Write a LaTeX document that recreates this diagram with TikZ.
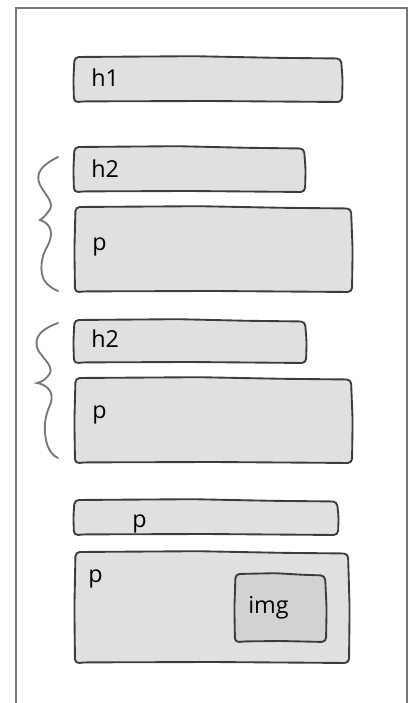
\documentclass[tikz,border=0pt]{standalone}
\usepackage{fontspec}
\setmainfont{Open Sans}
\definecolor{boxfill}{HTML}{E0E0E0}
\definecolor{imgfill}{HTML}{D2D2D2}
\definecolor{boxline}{HTML}{3C3C3C}
\definecolor{frameline}{HTML}{777777}
\newcommand\skbox[5][]{%
  \draw[sk,#1]
    ({#2+0.5},{#3}) -- ({#2+0.45*(#4-#2)},{#3-0.8}) -- ({#2+0.75*(#4-#2)},{#3+0.8})
    -- ({#4-1},{#3+1.5}) -- ({#4+0.6},{0.5*(#3+#5)}) -- ({#4},{#5})
    -- ({#2+0.5*(#4-#2)},{#5-1}) -- ({#2+8},{#5-0.6}) -- ({#2},{#5+0.5})
    -- ({#2-0.6},{0.5*(#3+#5)}) -- cycle;}
\begin{document}
\begin{tikzpicture}[x=0.75pt,y=-0.75pt,
  sk/.style={draw=boxline,line width=1.4pt,fill=boxfill,line join=round,rounded corners=3.2pt},
  skimg/.style={fill=imgfill},
  lbl/.style={anchor=base west,inner sep=0pt,font=\fontsize{17.5}{20}\selectfont},
  brace/.style={draw=frameline,line width=1.4pt,line cap=round},
  frame/.style={draw=frameline,line width=1.6pt}]
\useasboundingbox (0,0) rectangle (408,703);
\draw[frame] (16,704) -- (16,8) -- (407,8) -- (407,704);
% h1
\skbox{74}{57}{342}{102}
\node[lbl] (h1) at (91,86) {h1};
% group 1
\skbox{74}{147}{305}{192}
\node[lbl] (h2a) at (91,177) {h2};
\skbox{75}{207}{352}{292}
\node[lbl] (pa) at (92,250) {p};
\draw[brace] (58,157) .. controls (44,164) and (34,172) .. (40,185)
  .. controls (46,196) and (56,204) .. (48,212)
  .. controls (45,216) and (42,219) .. (40,220)
  .. controls (46,222) and (56,228) .. (48,245)
  .. controls (40,258) and (40,272) .. (44,280)
  .. controls (48,286) and (53,289) .. (58,291);
% group 2
\skbox{74}{320}{306}{363}
\node[lbl] (h2b) at (91,347) {h2};
\skbox{75}{378}{352}{463}
\node[lbl] (pb) at (92,418) {p};
\draw[brace] (58,323) .. controls (44,328) and (32,336) .. (38,350)
  .. controls (44,360) and (56,368) .. (48,376)
  .. controls (45,380) and (41,382) .. (37,383)
  .. controls (44,384) and (56,390) .. (50,405)
  .. controls (44,418) and (44,430) .. (46,440)
  .. controls (48,450) and (53,456) .. (58,458);
% bottom
\skbox{74}{500}{338}{535}
\node[lbl] (pc) at (132,527) {p};
\skbox{75}{552}{349}{663}
\node[lbl] (pd) at (88,582) {p};
\skbox[skimg]{235}{574}{326}{642}
\node[lbl] (img) at (248,613) {img};
\end{tikzpicture}
\end{document}
